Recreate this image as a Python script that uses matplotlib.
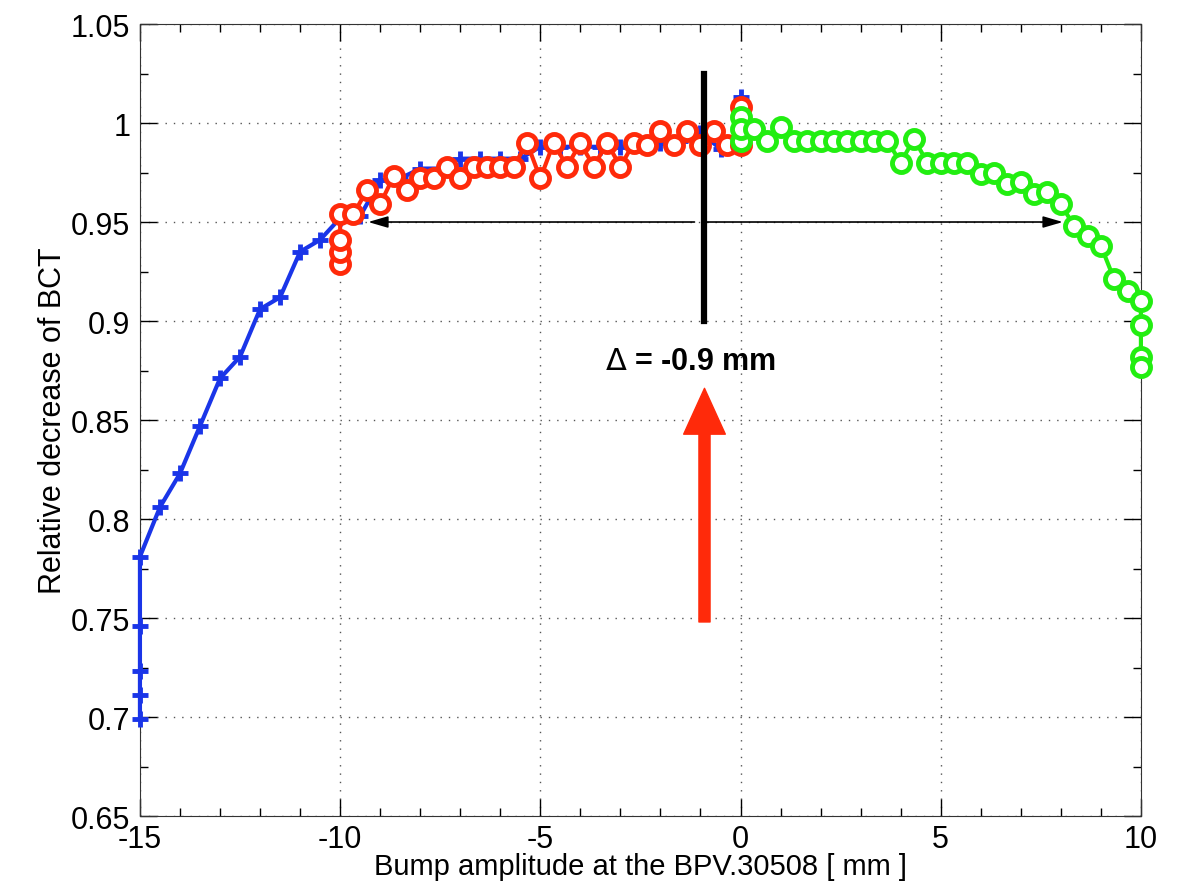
import numpy as np
import matplotlib
matplotlib.use('Agg')
import matplotlib.pyplot as plt
from matplotlib.ticker import MultipleLocator, FuncFormatter

plt.rcParams['font.family'] = ['Liberation Sans', 'DejaVu Sans']
plt.rcParams['axes.unicode_minus'] = False

# blue scan (crosses), 0.5 mm steps
blue_x = [-15, -15, -15, -15, -15, -14.5, -14, -13.5, -13, -12.5, -12, -11.5, -11, -10.5,
          -10, -9.5, -9, -8.5, -8, -7.5, -7, -6.5, -6, -5.5, -5, -4.5, -4, -3.5, -3,
          -2.5, -2, -1.5, -1, -0.5, 0, 0]
blue_y = [0.699, 0.711, 0.723, 0.746, 0.781, 0.806, 0.823, 0.847, 0.871, 0.882, 0.906, 0.912,
          0.935, 0.941, 0.952, 0.953, 0.971, 0.972, 0.977, 0.977, 0.982, 0.982, 0.982, 0.982,
          0.988, 0.988, 0.988, 0.988, 0.988, 0.989, 0.990, 0.991, 0.995, 0.987, 0.990, 1.013]

# red scan (circles), 1/3 mm steps from -10 to 0
red_x = [-10, -10, -10] + [-10 + k / 3 for k in range(31)] + [0]
red_y = [0.929, 0.935, 0.941,
         0.954, 0.954, 0.966, 0.959, 0.973, 0.966, 0.972, 0.972, 0.978, 0.972,
         0.978, 0.978, 0.978, 0.978, 0.990, 0.972, 0.990, 0.978, 0.990, 0.978,
         0.990, 0.978, 0.990, 0.989, 0.996, 0.989, 0.996, 0.989, 0.996, 0.989,
         0.989, 1.008]

# green scan (circles), 1/3 mm steps from 0 to 10
green_x = [0, 0] + [k / 3 for k in range(31)] + [10, 10, 10]
green_y = [0.991, 1.003,
           0.997, 0.997, 0.991, 0.998, 0.991, 0.991, 0.991, 0.991, 0.991, 0.991, 0.991,
           0.991, 0.980, 0.992, 0.980, 0.980, 0.980, 0.980, 0.974, 0.975, 0.969, 0.970,
           0.964, 0.965, 0.959, 0.948, 0.943, 0.938, 0.921, 0.915, 0.910,
           0.898, 0.882, 0.877]

delta = -0.9

fig = plt.figure(figsize=(11.79, 8.87), dpi=100)
ax = fig.add_axes([0.1187, 0.0789, 0.849, 0.8929])

ax.plot(blue_x, blue_y, color='#1a35e8', lw=3, marker='+', ms=11, mew=3.5,
        zorder=3, clip_on=False)
ax.plot(red_x, red_y, color='#ff2a0a', lw=3, marker='o', ms=13, mew=3.5,
        mfc='white', zorder=4, clip_on=False)
ax.plot(green_x, green_y, color='#22ee11', lw=3, marker='o', ms=13, mew=3.5,
        mfc='white', zorder=5, clip_on=False)

# measured centre
ax.plot([delta, delta], [0.9, 1.025], color='black', lw=4.5, zorder=6)
ax.annotate('', xy=(-9.3, 0.95), xytext=(delta - 0.25, 0.95),
            arrowprops=dict(arrowstyle='-|>,head_length=1.2,head_width=0.35',
                            color='black', lw=1.2, shrinkA=0, shrinkB=0), zorder=6)
ax.annotate('', xy=(8.05, 0.95), xytext=(delta, 0.95),
            arrowprops=dict(arrowstyle='-|>,head_length=1.2,head_width=0.35',
                            color='black', lw=1.2, shrinkA=0, shrinkB=0), zorder=6)
ax.text(-1.26, 0.880, r'$\Delta$ = -0.9 mm', fontsize=22, fontweight='bold',
        ha='center', va='center')
ax.annotate('', xy=(delta, 0.866), xytext=(delta, 0.748),
            arrowprops=dict(width=8, headwidth=30, headlength=33, color='#ff2a0a',
                            shrink=0))

ax.set_xlim(-15, 10)
ax.set_ylim(0.65, 1.05)
ax.xaxis.set_major_locator(MultipleLocator(5))
ax.xaxis.set_minor_locator(MultipleLocator(1))
ax.yaxis.set_major_locator(MultipleLocator(0.05))
ax.yaxis.set_minor_locator(MultipleLocator(0.025))
ax.yaxis.set_major_formatter(FuncFormatter(lambda v, p: '%g' % round(v, 3)))
ax.tick_params(which='both', direction='in', top=True, right=True, labelsize=22)
ax.tick_params(which='major', length=12, width=1)
ax.tick_params(which='minor', length=6, width=1)
ax.tick_params(axis='y', pad=7)
ax.tick_params(axis='x', pad=6)
ax.grid(True, which='major', linestyle=(0, (1, 5)), color='#555555', lw=1)
for s in ax.spines.values():
    s.set_color('#333333')

ax.set_xlabel('Bump amplitude at the BPV.30508 [ mm ]', fontsize=21, labelpad=-2)
ax.set_ylabel('Relative decrease of BCT', fontsize=22, labelpad=2)

fig.savefig('out.png', dpi=100)
